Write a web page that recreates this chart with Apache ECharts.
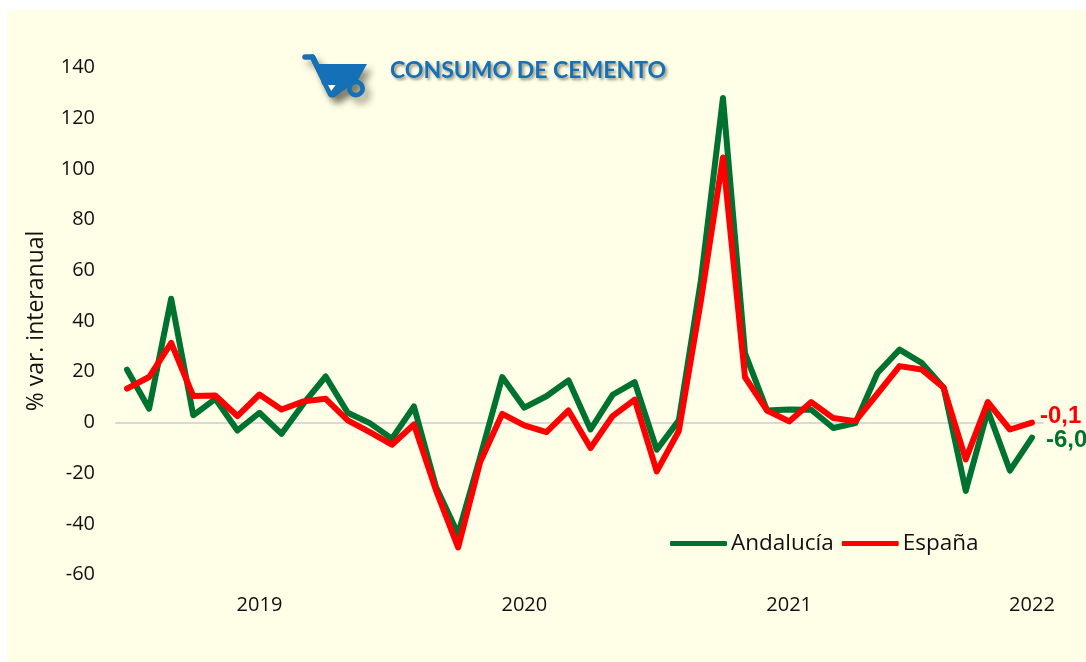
<!DOCTYPE html>
<html>
<head>
<meta charset="utf-8">
<style>html,body{margin:0;padding:0;background:#fff}#c{width:1086px;height:662px}</style>
<script src="https://cdn.jsdelivr.net/npm/echarts@6/dist/echarts.min.js"></script>
</head>
<body>
<div id="c"></div>
<script>
const yearLabels = ["","","","","","","2019","","","","","","","","","","","","2020","","","","","","","","","","","","2021","","","","","","","","","","","2022"];
const andalucia = [20.8,5.4,48.8,2.8,9.3,-3.2,3.8,-4.5,7.5,18.1,3.8,-0.3,-6.4,6.3,-25.5,-44,-13.7,17.9,5.8,10.3,16.6,-2.8,10.9,15.9,-10.8,0.8,56,128,27.2,4.7,5.1,5,-2.2,-0.3,19.5,28.7,23.5,13.7,-27,4.7,-19,-6.0];
const espana = [13.3,17.9,31.4,10.4,10.6,2.5,11,5.1,8.3,9.3,0.8,-3.8,-8.8,-0.8,-26.8,-49.3,-15.6,3.4,-1.2,-3.8,4.7,-10.1,2.5,9,-19.3,-3.4,48,104.5,17.8,4.7,0.4,8,1.7,0.5,11.3,22.2,20.9,13.7,-14.6,8,-2.8,-0.1];
const titleText = "CONSUMO DE CEMENTO";
const yAxisTitle = "% var. interanual";
const CREAM = "#FFFFE8", BLUE = "#1670B7", GREEN = "#00722F", RED = "#FF0000", INK = "#111111";
const FONT = "Open Sans";
const fmt = v => v.toFixed(1).replace(".", ",");
const shadow = {shadowColor:"rgba(40,40,20,0.5)",shadowBlur:7,shadowOffsetX:5,shadowOffsetY:6};
const chart = echarts.init(document.getElementById("c"), null, {renderer:"canvas"});
function lineSeries(name, data, color, offset){
  return {
    name, type:"line", data, symbol:"none", smooth:false, clip:false,
    lineStyle:{color, width:6, cap:"round", join:"round"},
    itemStyle:{color},
    endLabel:{show:true, formatter:p=>fmt(p.value), color, fontFamily:"Liberation Sans", fontWeight:"bold", fontSize:24, offset, distance:0},
    emphasis:{disabled:true}
  };
}
chart.setOption({
  animation:false,
  backgroundColor:"#fff",
  title:{text:titleText,left:385,top:54,textStyle:{color:BLUE,fontFamily:"Lato",fontWeight:"bold",fontSize:23,textShadowColor:"rgba(40,40,20,0.5)",textShadowBlur:3,textShadowOffsetX:2,textShadowOffsetY:2}},
  grid:{left:116,top:67.5,width:927,height:507,containLabel:false},
  legend:{left:665,top:527,icon:"roundRect",itemWidth:57,itemHeight:5,itemGap:8,textStyle:{fontFamily:FONT,fontSize:22.5,color:INK,padding:[0,0,0,-1]},data:["Andalucía","España"]},
  xAxis:[
    {type:"category",data:yearLabels,position:"bottom",axisLine:{show:false,onZero:false},axisTick:{show:false},
     axisLabel:{interval:0,hideOverlap:false,margin:21,fontFamily:FONT,fontSize:20,color:INK}},
    {type:"category",data:yearLabels,position:"bottom",axisLine:{show:true,onZero:true,lineStyle:{color:"#D9D9D9",width:2}},axisTick:{show:false},axisLabel:{show:false}}
  ],
  yAxis:{type:"value",min:-60,max:140,interval:20,name:yAxisTitle,nameLocation:"middle",nameGap:68,nameTextStyle:{fontFamily:FONT,fontSize:23,color:INK},
    axisLine:{show:false},axisTick:{show:false},splitLine:{show:false},axisLabel:{margin:21,fontFamily:FONT,fontSize:20,color:INK,padding:[3,0,0,0]}},
  series:[lineSeries("Andalucía",andalucia,GREEN,[14,3]),lineSeries("España",espana,RED,[8,-6])],
  graphic:[
    {type:"rect",z:-10,silent:true,shape:{x:7,y:10,width:1079,height:652},style:{fill:CREAM}},
    {type:"polyline",z:5,silent:true,shape:{points:[[305,57],[312.5,57],[331,94.5],[333,94.5],[350,82]]},style:{fill:"none",stroke:BLUE,lineWidth:5.5,lineCap:"round",lineJoin:"round",...shadow}},
    {type:"polygon",z:5,silent:true,shape:{points:[[317,64],[367,64],[358,80],[349,84],[336,94],[330,94],[322,84]]},style:{fill:BLUE,...shadow}},
    {type:"polyline",z:5,silent:true,shape:{points:[[312.5,57],[331,94.5],[333,94.5],[350,82]]},style:{fill:"none",stroke:BLUE,lineWidth:5.5,lineCap:"round",lineJoin:"round"}},
    {type:"polygon",z:6,silent:true,shape:{points:[[328,85],[335.5,85],[331.3,91]]},style:{fill:CREAM}},
    {type:"ring",z:5,silent:true,shape:{cx:356,cy:88.5,r:9,r0:4.3},style:{fill:BLUE,...shadow}}
  ]
});
</script>
</body>
</html>
